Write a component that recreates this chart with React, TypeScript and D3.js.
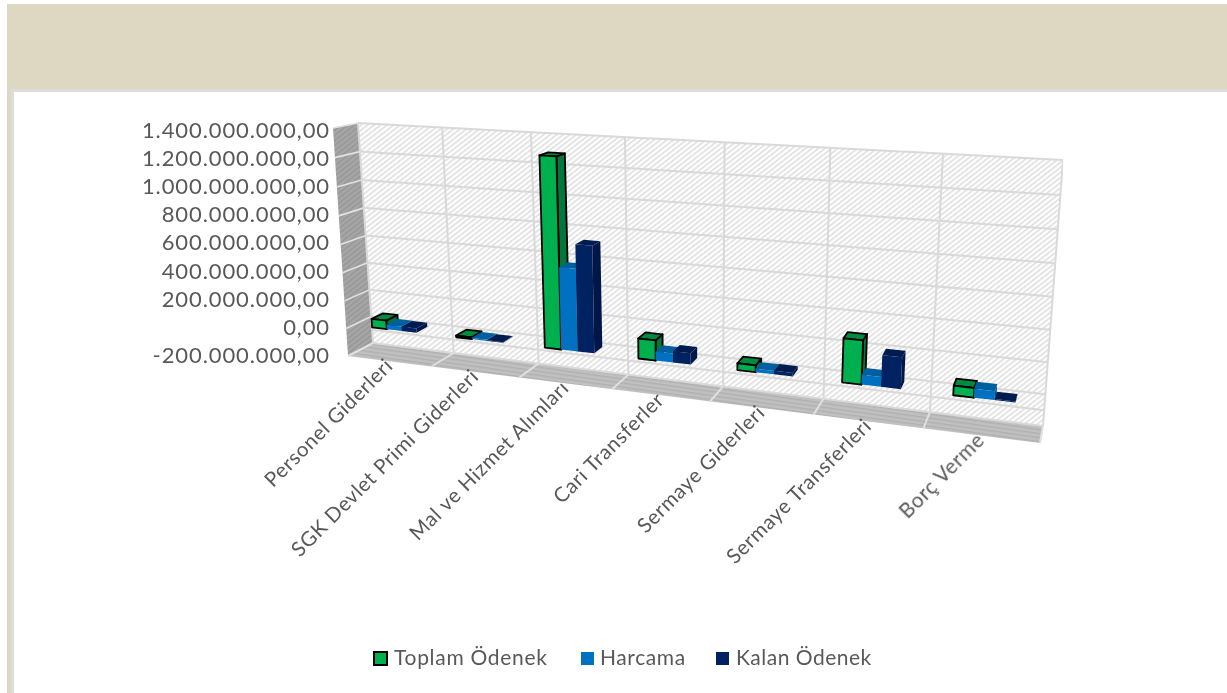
import React from 'react';
import * as d3 from 'd3';

// values
const categories = ['Personel Giderleri', 'SGK Devlet Primi Giderleri', 'Mal ve Hizmet Alımları', 'Cari Transferler', 'Sermaye Giderleri', 'Sermaye Transferleri', 'Borç Verme'];
const seriesNames = ['Toplam Ödenek', 'Harcama', 'Kalan Ödenek'];
const toplam = [62000000, 12000000, 1285000000, 135000000, 45000000, 280000000, 60000000];
const harcama = [32000000, 8000000, 560000000, 60000000, 22000000, 62000000, 55000000];
const kalan = [30000000, 4000000, 722000000, 75000000, 23000000, 200000000, 7000000];
const yTicks = [-200000000, 0, 200000000, 400000000, 600000000, 800000000, 1000000000, 1200000000, 1400000000];
const extraGrid = [-100000000];

const W = 1227;
const H = 693;
const FONT = 'Lato, "Open Sans", sans-serif';
const TEXT = '#595959';
const GRID = '#d9d9d9';

const faceColors = [
  { front: '#00b050', side: '#00783a', top: '#008a3e' },
  { front: '#0070c0', side: '#00508e', top: '#00609f' },
  { front: '#002060', side: '#001646', top: '#001a50' },
];

type Pt = [number, number];

// projective map of the unit square on a quad (tl, tr, br, bl)
const quadMap = (p0: Pt, p1: Pt, p2: Pt, p3: Pt) => {
  const dx1 = p1[0] - p2[0], dx2 = p3[0] - p2[0], sx = p0[0] - p1[0] + p2[0] - p3[0];
  const dy1 = p1[1] - p2[1], dy2 = p3[1] - p2[1], sy = p0[1] - p1[1] + p2[1] - p3[1];
  const den = dx1 * dy2 - dx2 * dy1;
  const g = (sx * dy2 - dx2 * sy) / den;
  const h = (dx1 * sy - sx * dy1) / den;
  const a = p1[0] - p0[0] + g * p1[0], b = p3[0] - p0[0] + h * p3[0];
  const d = p1[1] - p0[1] + g * p1[1], e = p3[1] - p0[1] + h * p3[1];
  return (u: number, v: number): Pt => {
    const w = g * u + h * v + 1;
    return [(a * u + b * v + p0[0]) / w, (d * u + e * v + p0[1]) / w];
  };
};

const backWall = quadMap([358, 123], [1063, 160], [1043, 426], [373, 343]);
const frontWall = quadMap([333, 128], [1060, 168], [1040, 443], [348, 356]);

const uScale = d3.scaleBand<string>().domain(categories).range([0, 1]);
const vScale = d3.scaleLinear().domain([1400000000, -200000000]).range([0, 1]);
const labelY = d3.scaleLinear().domain([-200000000, 1400000000]).range([355, 130]);
const seriesScale = d3.scaleBand<string>().domain(seriesNames).range([0, uScale.bandwidth()]).paddingOuter(1.3).paddingInner(0);
const fmt = (n: number) => d3.format(',.2f')(n).replace(/,/g, '#').replace('.', ',').replace(/#/g, '.').replace('\u2212', '-');

// u across the categories, value up the wall, depth 0 = back wall, 1 = floor front
const project = (u: number, value: number, depth: number): Pt => {
  const b = backWall(u, vScale(value));
  const f = frontWall(u, vScale(value));
  return [b[0] + (f[0] - b[0]) * depth, b[1] + (f[1] - b[1]) * depth];
};

const line = d3.line();
const poly = (pts: Pt[]) => line(pts) + 'Z';

const DEPTH_FRONT = 0.72;
const DEPTH_BACK = 0.25;

const Bar = ({ cat, si, value }: { cat: string; si: number; value: number }) => {
  const u0 = (uScale(cat) as number) + (seriesScale(seriesNames[si]) as number);
  const u1 = u0 + seriesScale.bandwidth();
  const c = faceColors[si];
  const stroke = si === 0 ? '#000' : 'none';
  const fbl = project(u0, 0, DEPTH_FRONT), fbr = project(u1, 0, DEPTH_FRONT);
  const ftl = project(u0, value, DEPTH_FRONT), ftr = project(u1, value, DEPTH_FRONT);
  const bbr = project(u1, 0, DEPTH_BACK), btl = project(u0, value, DEPTH_BACK), btr = project(u1, value, DEPTH_BACK);
  return (
    <g stroke={stroke} strokeWidth={1.8} strokeLinejoin="round">
      <path d={poly([ftr, btr, bbr, fbr])} fill={c.side} />
      <path d={poly([ftl, btl, btr, ftr])} fill={c.top} />
      <path d={poly([ftl, ftr, fbr, fbl])} fill={c.front} />
    </g>
  );
};

const App = () => {
  const seriesValues = [toplam, harcama, kalan];
  const vMin = yTicks[0];
  const vMax = yTicks[yTicks.length - 1];
  const boundaries = d3.range(categories.length + 1).map(i => i / categories.length);
  return (
    <svg width={W} height={H} style={{ position: 'absolute', left: 0, top: 0 }} fontFamily={FONT}>
      <defs>
        <pattern id="wallHatch" width="4" height="4" patternUnits="userSpaceOnUse" patternTransform="rotate(-38)">
          <rect width="4" height="4" fill="#fff" />
          <rect width="4" height="1.6" fill="#dedede" />
        </pattern>
        <pattern id="sideHatch" width="4" height="4" patternUnits="userSpaceOnUse" patternTransform="rotate(-38)">
          <rect width="4" height="4" fill="#a6a6a6" />
          <rect width="4" height="1.4" fill="#969696" />
        </pattern>
        <pattern id="floorHatch" width="4" height="4" patternUnits="userSpaceOnUse" patternTransform="rotate(8)">
          <rect width="4" height="4" fill="#c0c0c0" />
          <rect width="4" height="1.4" fill="#b0b0b0" />
        </pattern>
        <filter id="soft" x="0" y="0" width="100%" height="100%">
          <feGaussianBlur stdDeviation="0.4" />
        </filter>
      </defs>

      {/* frame */}
      <rect x={7} y={4} width={W - 7} height={H - 4} fill="#ded8c2" />
      <rect x={11} y={89} width={W - 11} height={H - 89} fill="#dcdcdc" />
      <rect x={14} y={92} width={W - 14} height={H - 92} fill="#fff" />

      <g filter="url(#soft)">
        {/* walls and floor */}
        <path d={poly([backWall(0, 0), backWall(1, 0), backWall(1, 1), backWall(0, 1)])} fill="url(#wallHatch)" />
        <path d={poly([frontWall(0, 0), backWall(0, 0), backWall(0, 1), frontWall(0, 1)])} fill="url(#sideHatch)" />
        <path d={poly([backWall(0, 1), backWall(1, 1), frontWall(1, 1), frontWall(0, 1)])} fill="url(#floorHatch)" />

        {[...yTicks, ...extraGrid].map(t => (
          <path key={t} d={line([project(0, t, 0), project(1, t, 0)]) as string} stroke={GRID} strokeWidth={2} fill="none" />
        ))}
        {yTicks.slice(1).map(t => (
          <path key={t} d={line([project(0, t, 1), project(0, t, 0)]) as string} stroke="#e2e2e2" strokeWidth={1.6} fill="none" />
        ))}
        {boundaries.map(u => (
          <g key={u} fill="none" stroke={GRID} strokeWidth={2}>
            <path d={line([project(u, vMax, 0), project(u, vMin, 0)]) as string} />
            <path d={line([project(u, vMin, 0), project(u, vMin, 1)]) as string} stroke="#e0e0e0" />
          </g>
        ))}

        {/* bars */}
        {categories.map((cat, i) => (
          <g key={cat}>
            {seriesValues.map((vals, si) => <Bar key={si} cat={cat} si={si} value={vals[i]} />)}
          </g>
        ))}

        {/* value axis */}
        {yTicks.map(t => (
          <text key={t} x={330} y={labelY(t)} dy="0.36em" textAnchor="end" fontSize={22} letterSpacing={0.9} fill={TEXT}>{fmt(t)}</text>
        ))}

        {/* category labels */}
        {categories.map(cat => {
          const [x, y] = project((uScale(cat) as number) + uScale.bandwidth() / 2, vMin, 1);
          return (
            <text key={cat} transform={`translate(${x + 5},${y + 6}) rotate(-45)`} textAnchor="end" fontSize={20.5} letterSpacing={0.6} fill={TEXT}>{cat}</text>
          );
        })}

        {/* legend */}
        <rect x={374} y={652} width={13} height={13} fill={faceColors[0].front} stroke="#000" strokeWidth={2} />
        <text x={394} y={665} fontSize={21} letterSpacing={0.7} fill={TEXT}>{seriesNames[0]}</text>
        <rect x={581} y={652} width={13} height={13} fill={faceColors[1].front} />
        <text x={600} y={665} fontSize={21} letterSpacing={0.6} fill={TEXT}>{seriesNames[1]}</text>
        <rect x={716} y={652} width={13} height={13} fill={faceColors[2].front} />
        <text x={736} y={665} fontSize={21} letterSpacing={0.5} fill={TEXT}>{seriesNames[2]}</text>
      </g>
    </svg>
  );
};

export default App;
